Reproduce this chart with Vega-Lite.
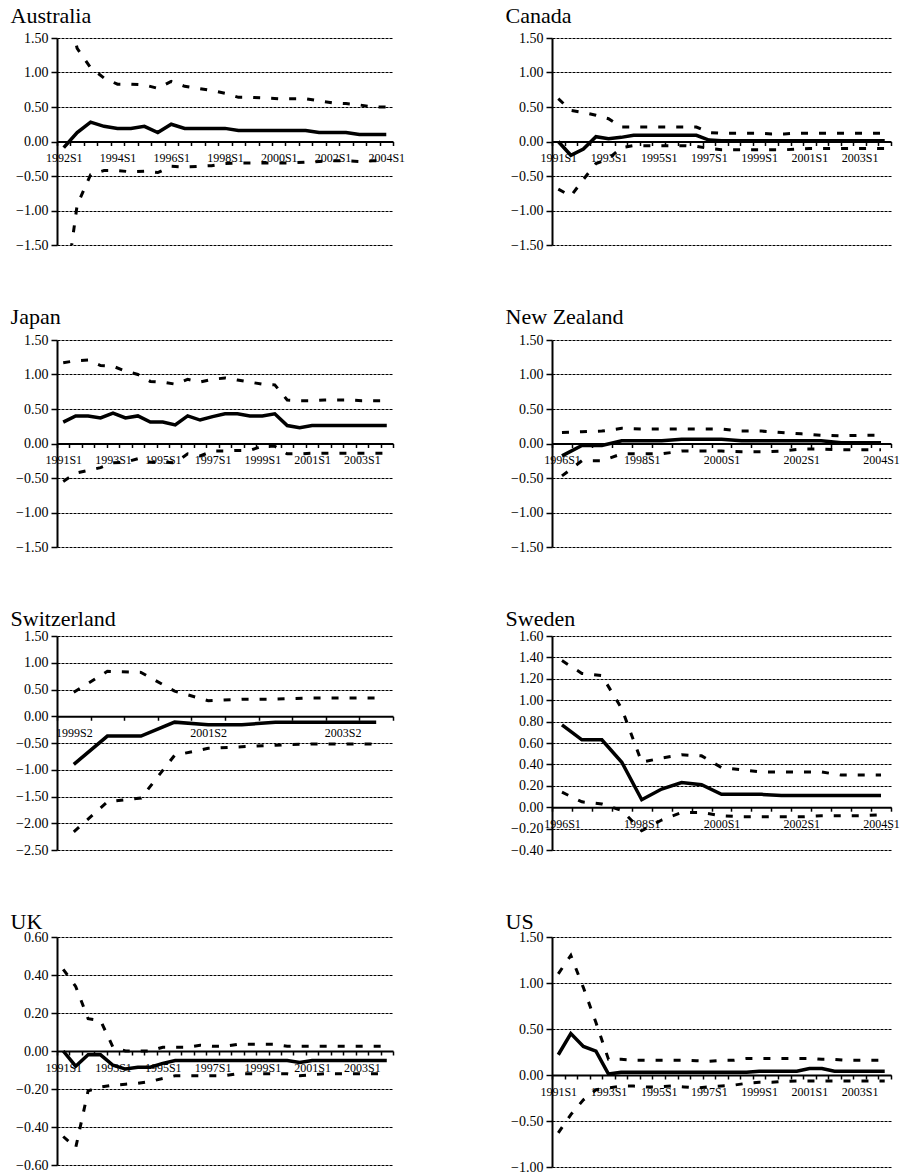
{
"$schema": "https://vega.github.io/schema/vega-lite/v6.json",
"background": "white",
"padding": {"left": 10, "top": 5, "right": 2, "bottom": 2},
"datasets": {
"aus": [
{"p":"1992S1","c":-0.09,"u":2.15,"l":-2.35},{"p":"1992S2","c":0.13,"u":1.35,"l":-0.92},{"p":"1993S1","c":0.28,"u":1.07,"l":-0.48},{"p":"1993S2","c":0.22,"u":0.92,"l":-0.42},{"p":"1994S1","c":0.19,"u":0.83,"l":-0.42},{"p":"1994S2","c":0.19,"u":0.83,"l":-0.44},{"p":"1995S1","c":0.22,"u":0.82,"l":-0.43},{"p":"1995S2","c":0.13,"u":0.77,"l":-0.45},{"p":"1996S1","c":0.25,"u":0.87,"l":-0.36},{"p":"1996S2","c":0.19,"u":0.80,"l":-0.37},{"p":"1997S1","c":0.19,"u":0.77,"l":-0.36},{"p":"1997S2","c":0.19,"u":0.74,"l":-0.35},{"p":"1998S1","c":0.19,"u":0.70,"l":-0.32},{"p":"1998S2","c":0.16,"u":0.64,"l":-0.31},{"p":"1999S1","c":0.16,"u":0.64,"l":-0.31},{"p":"1999S2","c":0.16,"u":0.63,"l":-0.31},{"p":"2000S1","c":0.16,"u":0.62,"l":-0.31},{"p":"2000S2","c":0.16,"u":0.62,"l":-0.31},{"p":"2001S1","c":0.16,"u":0.62,"l":-0.30},{"p":"2001S2","c":0.13,"u":0.59,"l":-0.29},{"p":"2002S1","c":0.13,"u":0.56,"l":-0.28},{"p":"2002S2","c":0.13,"u":0.55,"l":-0.28},{"p":"2003S1","c":0.10,"u":0.53,"l":-0.29},{"p":"2003S2","c":0.10,"u":0.50,"l":-0.28},{"p":"2004S1","c":0.10,"u":0.50,"l":-0.28}],
"can": [
{"p":"1991S1","c":0.00,"u":0.62,"l":-0.69},{"p":"1991S2","c":-0.20,"u":0.45,"l":-0.79},{"p":"1992S1","c":-0.11,"u":0.42,"l":-0.55},{"p":"1992S2","c":0.07,"u":0.38,"l":-0.32},{"p":"1993S1","c":0.04,"u":0.33,"l":-0.25},{"p":"1993S2","c":0.06,"u":0.21,"l":-0.09},{"p":"1994S1","c":0.09,"u":0.21,"l":-0.06},{"p":"1994S2","c":0.09,"u":0.21,"l":-0.06},{"p":"1995S1","c":0.09,"u":0.21,"l":-0.06},{"p":"1995S2","c":0.09,"u":0.21,"l":-0.06},{"p":"1996S1","c":0.09,"u":0.21,"l":-0.06},{"p":"1996S2","c":0.09,"u":0.21,"l":-0.07},{"p":"1997S1","c":0.02,"u":0.13,"l":-0.10},{"p":"1997S2","c":0.01,"u":0.12,"l":-0.12},{"p":"1998S1","c":0.01,"u":0.12,"l":-0.12},{"p":"1998S2","c":0.01,"u":0.12,"l":-0.12},{"p":"1999S1","c":0.01,"u":0.12,"l":-0.12},{"p":"1999S2","c":0.01,"u":0.11,"l":-0.12},{"p":"2000S1","c":0.01,"u":0.11,"l":-0.12},{"p":"2000S2","c":0.01,"u":0.12,"l":-0.11},{"p":"2001S1","c":0.01,"u":0.12,"l":-0.10},{"p":"2001S2","c":0.01,"u":0.12,"l":-0.10},{"p":"2002S1","c":0.01,"u":0.12,"l":-0.10},{"p":"2002S2","c":0.01,"u":0.12,"l":-0.10},{"p":"2003S1","c":0.01,"u":0.12,"l":-0.10},{"p":"2003S2","c":0.01,"u":0.12,"l":-0.10},{"p":"2004S1","c":0.01,"u":0.12,"l":-0.10}],
"jap": [
{"p":"1991S1","c":0.31,"u":1.17,"l":-0.55},{"p":"1991S2","c":0.40,"u":1.20,"l":-0.43},{"p":"1992S1","c":0.40,"u":1.21,"l":-0.39},{"p":"1992S2","c":0.37,"u":1.13,"l":-0.35},{"p":"1993S1","c":0.44,"u":1.12,"l":-0.28},{"p":"1993S2","c":0.37,"u":1.05,"l":-0.27},{"p":"1994S1","c":0.40,"u":1.00,"l":-0.22},{"p":"1994S2","c":0.31,"u":0.90,"l":-0.27},{"p":"1995S1","c":0.31,"u":0.89,"l":-0.27},{"p":"1995S2","c":0.27,"u":0.86,"l":-0.28},{"p":"1996S1","c":0.40,"u":0.93,"l":-0.15},{"p":"1996S2","c":0.34,"u":0.89,"l":-0.18},{"p":"1997S1","c":0.39,"u":0.93,"l":-0.11},{"p":"1997S2","c":0.43,"u":0.95,"l":-0.11},{"p":"1998S1","c":0.43,"u":0.92,"l":-0.10},{"p":"1998S2","c":0.40,"u":0.89,"l":-0.10},{"p":"1999S1","c":0.40,"u":0.86,"l":-0.04},{"p":"1999S2","c":0.43,"u":0.85,"l":-0.04},{"p":"2000S1","c":0.26,"u":0.63,"l":-0.15},{"p":"2000S2","c":0.23,"u":0.62,"l":-0.15},{"p":"2001S1","c":0.26,"u":0.62,"l":-0.14},{"p":"2001S2","c":0.26,"u":0.63,"l":-0.14},{"p":"2002S1","c":0.26,"u":0.63,"l":-0.14},{"p":"2002S2","c":0.26,"u":0.63,"l":-0.14},{"p":"2003S1","c":0.26,"u":0.62,"l":-0.14},{"p":"2003S2","c":0.26,"u":0.62,"l":-0.14},{"p":"2004S1","c":0.26,"u":0.62,"l":-0.14}],
"nz": [
{"p":"1996S1","c":-0.18,"u":0.16,"l":-0.47},{"p":"1996S2","c":-0.03,"u":0.17,"l":-0.25},{"p":"1997S1","c":-0.03,"u":0.18,"l":-0.25},{"p":"1997S2","c":0.04,"u":0.22,"l":-0.15},{"p":"1998S1","c":0.04,"u":0.21,"l":-0.15},{"p":"1998S2","c":0.04,"u":0.21,"l":-0.15},{"p":"1999S1","c":0.06,"u":0.21,"l":-0.11},{"p":"1999S2","c":0.06,"u":0.21,"l":-0.11},{"p":"2000S1","c":0.06,"u":0.21,"l":-0.11},{"p":"2000S2","c":0.04,"u":0.18,"l":-0.12},{"p":"2001S1","c":0.04,"u":0.18,"l":-0.12},{"p":"2001S2","c":0.04,"u":0.16,"l":-0.11},{"p":"2002S1","c":0.04,"u":0.14,"l":-0.08},{"p":"2002S2","c":0.04,"u":0.12,"l":-0.08},{"p":"2003S1","c":0.01,"u":0.11,"l":-0.09},{"p":"2003S2","c":0.01,"u":0.12,"l":-0.09},{"p":"2004S1","c":0.01,"u":0.12,"l":-0.09}],
"swi": [
{"p":"1999S2","c":-0.90,"u":0.45,"l":-2.16},{"p":"2000S1","c":-0.37,"u":0.84,"l":-1.60},{"p":"2000S2","c":-0.37,"u":0.82,"l":-1.53},{"p":"2001S1","c":-0.11,"u":0.47,"l":-0.73},{"p":"2001S2","c":-0.16,"u":0.29,"l":-0.60},{"p":"2002S1","c":-0.16,"u":0.32,"l":-0.57},{"p":"2002S2","c":-0.11,"u":0.32,"l":-0.54},{"p":"2003S1","c":-0.11,"u":0.34,"l":-0.52},{"p":"2003S2","c":-0.11,"u":0.34,"l":-0.52},{"p":"2004S1","c":-0.11,"u":0.34,"l":-0.52}],
"swe": [
{"p":"1996S1","c":0.77,"u":1.37,"l":0.14},{"p":"1996S2","c":0.63,"u":1.25,"l":0.05},{"p":"1997S1","c":0.63,"u":1.23,"l":0.03},{"p":"1997S2","c":0.42,"u":0.92,"l":-0.03},{"p":"1998S1","c":0.07,"u":0.42,"l":-0.22},{"p":"1998S2","c":0.17,"u":0.46,"l":-0.12},{"p":"1999S1","c":0.23,"u":0.49,"l":-0.05},{"p":"1999S2","c":0.21,"u":0.48,"l":-0.05},{"p":"2000S1","c":0.12,"u":0.37,"l":-0.08},{"p":"2000S2","c":0.12,"u":0.35,"l":-0.09},{"p":"2001S1","c":0.12,"u":0.33,"l":-0.09},{"p":"2001S2","c":0.11,"u":0.33,"l":-0.09},{"p":"2002S1","c":0.11,"u":0.33,"l":-0.09},{"p":"2002S2","c":0.11,"u":0.33,"l":-0.08},{"p":"2003S1","c":0.11,"u":0.30,"l":-0.08},{"p":"2003S2","c":0.11,"u":0.30,"l":-0.08},{"p":"2004S1","c":0.11,"u":0.30,"l":-0.07}],
"uk": [
{"p":"1991S1","c":0.00,"u":0.43,"l":-0.45},{"p":"1991S2","c":-0.08,"u":0.34,"l":-0.51},{"p":"1992S1","c":-0.02,"u":0.17,"l":-0.21},{"p":"1992S2","c":-0.02,"u":0.16,"l":-0.19},{"p":"1993S1","c":-0.075,"u":0.02,"l":-0.18},{"p":"1993S2","c":-0.095,"u":0.00,"l":-0.175},{"p":"1994S1","c":-0.085,"u":0.00,"l":-0.17},{"p":"1994S2","c":-0.085,"u":0.00,"l":-0.16},{"p":"1995S1","c":-0.065,"u":0.02,"l":-0.145},{"p":"1995S2","c":-0.05,"u":0.02,"l":-0.13},{"p":"1996S1","c":-0.05,"u":0.02,"l":-0.13},{"p":"1996S2","c":-0.05,"u":0.03,"l":-0.13},{"p":"1997S1","c":-0.05,"u":0.025,"l":-0.13},{"p":"1997S2","c":-0.05,"u":0.025,"l":-0.13},{"p":"1998S1","c":-0.05,"u":0.035,"l":-0.12},{"p":"1998S2","c":-0.05,"u":0.035,"l":-0.12},{"p":"1999S1","c":-0.05,"u":0.035,"l":-0.12},{"p":"1999S2","c":-0.05,"u":0.035,"l":-0.12},{"p":"2000S1","c":-0.05,"u":0.025,"l":-0.12},{"p":"2000S2","c":-0.06,"u":0.025,"l":-0.13},{"p":"2001S1","c":-0.05,"u":0.025,"l":-0.125},{"p":"2001S2","c":-0.05,"u":0.025,"l":-0.12},{"p":"2002S1","c":-0.05,"u":0.025,"l":-0.12},{"p":"2002S2","c":-0.05,"u":0.025,"l":-0.12},{"p":"2003S1","c":-0.05,"u":0.025,"l":-0.12},{"p":"2003S2","c":-0.05,"u":0.025,"l":-0.12},{"p":"2004S1","c":-0.05,"u":0.025,"l":-0.12}],
"us": [
{"p":"1991S1","c":0.22,"u":1.10,"l":-0.63},{"p":"1991S2","c":0.45,"u":1.30,"l":-0.43},{"p":"1992S1","c":0.31,"u":0.95,"l":-0.27},{"p":"1992S2","c":0.26,"u":0.57,"l":-0.16},{"p":"1993S1","c":0.01,"u":0.17,"l":-0.14},{"p":"1993S2","c":0.03,"u":0.17,"l":-0.12},{"p":"1994S1","c":0.03,"u":0.16,"l":-0.12},{"p":"1994S2","c":0.03,"u":0.16,"l":-0.13},{"p":"1995S1","c":0.03,"u":0.16,"l":-0.13},{"p":"1995S2","c":0.03,"u":0.16,"l":-0.12},{"p":"1996S1","c":0.03,"u":0.16,"l":-0.13},{"p":"1996S2","c":0.03,"u":0.155,"l":-0.14},{"p":"1997S1","c":0.03,"u":0.15,"l":-0.13},{"p":"1997S2","c":0.03,"u":0.16,"l":-0.12},{"p":"1998S1","c":0.03,"u":0.16,"l":-0.11},{"p":"1998S2","c":0.03,"u":0.18,"l":-0.09},{"p":"1999S1","c":0.04,"u":0.18,"l":-0.08},{"p":"1999S2","c":0.04,"u":0.18,"l":-0.08},{"p":"2000S1","c":0.04,"u":0.18,"l":-0.07},{"p":"2000S2","c":0.04,"u":0.18,"l":-0.065},{"p":"2001S1","c":0.07,"u":0.18,"l":-0.065},{"p":"2001S2","c":0.07,"u":0.17,"l":-0.065},{"p":"2002S1","c":0.04,"u":0.17,"l":-0.065},{"p":"2002S2","c":0.04,"u":0.16,"l":-0.065},{"p":"2003S1","c":0.04,"u":0.16,"l":-0.065},{"p":"2003S2","c":0.04,"u":0.16,"l":-0.065},{"p":"2004S1","c":0.04,"u":0.16,"l":-0.065}]
},
"columns": 2,
"align": "each",
"spacing": {"row": 54, "column": 100},
"concat": [
{"width": 336, "height": 207, "title": {"text": "Australia", "offset": 3}, "data": {"name": "aus"},
 "encoding": {"x": {"field": "p", "type": "ordinal", "bandPosition": 0.5, "scale": {"type": "band", "paddingInner": 0, "paddingOuter": 0}, "axis": {"title": null, "offset": -103.5, "tickBand": "extent", "labelExpr": "indexof(['1992S1','1994S1','1996S1','1998S1','2000S1','2002S1','2004S1'], datum.value) >= 0 ? datum.label : ''"}}},
 "layer": [
  {"mark": {"type": "line", "clip": true, "strokeWidth": 3, "strokeDash": [7, 11]}, "encoding": {"y": {"field": "u", "type": "quantitative", "scale": {"domain": [-1.5, 1.5]}, "axis": {"title": null, "values": [-1.5, -1, -0.5, 0, 0.5, 1, 1.5]}}}},
  {"mark": {"type": "line", "clip": true, "strokeWidth": 3, "strokeDash": [7, 11]}, "encoding": {"y": {"field": "l", "type": "quantitative", "scale": {"domain": [-1.5, 1.5]}, "axis": {"title": null, "values": [-1.5, -1, -0.5, 0, 0.5, 1, 1.5]}}}},
  {"mark": {"type": "line", "clip": true, "strokeWidth": 3.5}, "encoding": {"y": {"field": "c", "type": "quantitative", "scale": {"domain": [-1.5, 1.5]}, "axis": {"title": null, "values": [-1.5, -1, -0.5, 0, 0.5, 1, 1.5]}}}}
 ]},
{"width": 339, "height": 207, "title": {"text": "Canada", "offset": 3}, "data": {"name": "can"},
 "encoding": {"x": {"field": "p", "type": "ordinal", "bandPosition": 0.5, "scale": {"type": "band", "paddingInner": 0, "paddingOuter": 0}, "axis": {"title": null, "offset": -103.5, "tickBand": "extent", "labelExpr": "indexof(['1991S1','1993S1','1995S1','1997S1','1999S1','2001S1','2003S1'], datum.value) >= 0 ? datum.label : ''"}}},
 "layer": [
  {"mark": {"type": "line", "clip": true, "strokeWidth": 3, "strokeDash": [7, 11]}, "encoding": {"y": {"field": "u", "type": "quantitative", "scale": {"domain": [-1.5, 1.5]}, "axis": {"title": null, "values": [-1.5, -1, -0.5, 0, 0.5, 1, 1.5]}}}},
  {"mark": {"type": "line", "clip": true, "strokeWidth": 3, "strokeDash": [7, 11]}, "encoding": {"y": {"field": "l", "type": "quantitative", "scale": {"domain": [-1.5, 1.5]}, "axis": {"title": null, "values": [-1.5, -1, -0.5, 0, 0.5, 1, 1.5]}}}},
  {"mark": {"type": "line", "clip": true, "strokeWidth": 3.5}, "encoding": {"y": {"field": "c", "type": "quantitative", "scale": {"domain": [-1.5, 1.5]}, "axis": {"title": null, "values": [-1.5, -1, -0.5, 0, 0.5, 1, 1.5]}}}}
 ]},
{"width": 336, "height": 207, "title": {"text": "Japan", "offset": 4}, "data": {"name": "jap"},
 "encoding": {"x": {"field": "p", "type": "ordinal", "bandPosition": 0.5, "scale": {"type": "band", "paddingInner": 0, "paddingOuter": 0}, "axis": {"title": null, "offset": -103.5, "tickBand": "extent", "labelExpr": "indexof(['1991S1','1993S1','1995S1','1997S1','1999S1','2001S1','2003S1'], datum.value) >= 0 ? datum.label : ''"}}},
 "layer": [
  {"mark": {"type": "line", "clip": true, "strokeWidth": 3, "strokeDash": [7, 11]}, "encoding": {"y": {"field": "u", "type": "quantitative", "scale": {"domain": [-1.5, 1.5]}, "axis": {"title": null, "values": [-1.5, -1, -0.5, 0, 0.5, 1, 1.5]}}}},
  {"mark": {"type": "line", "clip": true, "strokeWidth": 3, "strokeDash": [7, 11]}, "encoding": {"y": {"field": "l", "type": "quantitative", "scale": {"domain": [-1.5, 1.5]}, "axis": {"title": null, "values": [-1.5, -1, -0.5, 0, 0.5, 1, 1.5]}}}},
  {"mark": {"type": "line", "clip": true, "strokeWidth": 3.5}, "encoding": {"y": {"field": "c", "type": "quantitative", "scale": {"domain": [-1.5, 1.5]}, "axis": {"title": null, "values": [-1.5, -1, -0.5, 0, 0.5, 1, 1.5]}}}}
 ]},
{"width": 339, "height": 207, "title": {"text": "New Zealand", "offset": 4}, "data": {"name": "nz"},
 "encoding": {"x": {"field": "p", "type": "ordinal", "bandPosition": 0.5, "scale": {"type": "band", "paddingInner": 0, "paddingOuter": 0}, "axis": {"title": null, "offset": -103.5, "tickBand": "extent", "labelExpr": "indexof(['1996S1','1998S1','2000S1','2002S1','2004S1'], datum.value) >= 0 ? datum.label : ''"}}},
 "layer": [
  {"mark": {"type": "line", "clip": true, "strokeWidth": 3, "strokeDash": [7, 11]}, "encoding": {"y": {"field": "u", "type": "quantitative", "scale": {"domain": [-1.5, 1.5]}, "axis": {"title": null, "values": [-1.5, -1, -0.5, 0, 0.5, 1, 1.5]}}}},
  {"mark": {"type": "line", "clip": true, "strokeWidth": 3, "strokeDash": [7, 11]}, "encoding": {"y": {"field": "l", "type": "quantitative", "scale": {"domain": [-1.5, 1.5]}, "axis": {"title": null, "values": [-1.5, -1, -0.5, 0, 0.5, 1, 1.5]}}}},
  {"mark": {"type": "line", "clip": true, "strokeWidth": 3.5}, "encoding": {"y": {"field": "c", "type": "quantitative", "scale": {"domain": [-1.5, 1.5]}, "axis": {"title": null, "values": [-1.5, -1, -0.5, 0, 0.5, 1, 1.5]}}}}
 ]},
{"width": 336, "height": 214, "title": {"text": "Switzerland", "offset": -2}, "data": {"name": "swi"},
 "encoding": {"x": {"field": "p", "type": "ordinal", "bandPosition": 0.5, "scale": {"type": "band", "paddingInner": 0, "paddingOuter": 0}, "axis": {"title": null, "offset": -133.75, "tickBand": "extent", "labelExpr": "indexof(['1999S2','2001S2','2003S2'], datum.value) >= 0 ? datum.label : ''"}}},
 "layer": [
  {"mark": {"type": "line", "clip": true, "strokeWidth": 3, "strokeDash": [7, 11]}, "encoding": {"y": {"field": "u", "type": "quantitative", "scale": {"domain": [-2.5, 1.5]}, "axis": {"title": null, "values": [-2.5, -2, -1.5, -1, -0.5, 0, 0.5, 1, 1.5]}}}},
  {"mark": {"type": "line", "clip": true, "strokeWidth": 3, "strokeDash": [7, 11]}, "encoding": {"y": {"field": "l", "type": "quantitative", "scale": {"domain": [-2.5, 1.5]}, "axis": {"title": null, "values": [-2.5, -2, -1.5, -1, -0.5, 0, 0.5, 1, 1.5]}}}},
  {"mark": {"type": "line", "clip": true, "strokeWidth": 3.5}, "encoding": {"y": {"field": "c", "type": "quantitative", "scale": {"domain": [-2.5, 1.5]}, "axis": {"title": null, "values": [-2.5, -2, -1.5, -1, -0.5, 0, 0.5, 1, 1.5]}}}}
 ]},
{"width": 339, "height": 214, "title": {"text": "Sweden", "offset": -2}, "data": {"name": "swe"},
 "encoding": {"x": {"field": "p", "type": "ordinal", "bandPosition": 0.5, "scale": {"type": "band", "paddingInner": 0, "paddingOuter": 0}, "axis": {"title": null, "offset": -42.8, "tickBand": "extent", "labelExpr": "indexof(['1996S1','1998S1','2000S1','2002S1','2004S1'], datum.value) >= 0 ? datum.label : ''"}}},
 "layer": [
  {"mark": {"type": "line", "clip": true, "strokeWidth": 3, "strokeDash": [7, 11]}, "encoding": {"y": {"field": "u", "type": "quantitative", "scale": {"domain": [-0.4, 1.6]}, "axis": {"title": null, "values": [-0.4, -0.2, 0, 0.2, 0.4, 0.6, 0.8, 1, 1.2, 1.4, 1.6]}}}},
  {"mark": {"type": "line", "clip": true, "strokeWidth": 3, "strokeDash": [7, 11]}, "encoding": {"y": {"field": "l", "type": "quantitative", "scale": {"domain": [-0.4, 1.6]}, "axis": {"title": null, "values": [-0.4, -0.2, 0, 0.2, 0.4, 0.6, 0.8, 1, 1.2, 1.4, 1.6]}}}},
  {"mark": {"type": "line", "clip": true, "strokeWidth": 3.5}, "encoding": {"y": {"field": "c", "type": "quantitative", "scale": {"domain": [-0.4, 1.6]}, "axis": {"title": null, "values": [-0.4, -0.2, 0, 0.2, 0.4, 0.6, 0.8, 1, 1.2, 1.4, 1.6]}}}}
 ]},
{"width": 336, "height": 228, "title": {"text": "UK", "offset": -4}, "data": {"name": "uk"},
 "encoding": {"x": {"field": "p", "type": "ordinal", "bandPosition": 0.5, "scale": {"type": "band", "paddingInner": 0, "paddingOuter": 0}, "axis": {"title": null, "offset": -114, "tickBand": "extent", "labelExpr": "indexof(['1991S1','1993S1','1995S1','1997S1','1999S1','2001S1','2003S1'], datum.value) >= 0 ? datum.label : ''"}}},
 "layer": [
  {"mark": {"type": "line", "clip": true, "strokeWidth": 3, "strokeDash": [7, 11]}, "encoding": {"y": {"field": "u", "type": "quantitative", "scale": {"domain": [-0.6, 0.6]}, "axis": {"title": null, "values": [-0.6, -0.4, -0.2, 0, 0.2, 0.4, 0.6]}}}},
  {"mark": {"type": "line", "clip": true, "strokeWidth": 3, "strokeDash": [7, 11]}, "encoding": {"y": {"field": "l", "type": "quantitative", "scale": {"domain": [-0.6, 0.6]}, "axis": {"title": null, "values": [-0.6, -0.4, -0.2, 0, 0.2, 0.4, 0.6]}}}},
  {"mark": {"type": "line", "clip": true, "strokeWidth": 3.5}, "encoding": {"y": {"field": "c", "type": "quantitative", "scale": {"domain": [-0.6, 0.6]}, "axis": {"title": null, "values": [-0.6, -0.4, -0.2, 0, 0.2, 0.4, 0.6]}}}}
 ]},
{"width": 339, "height": 230, "title": {"text": "US", "offset": -4}, "data": {"name": "us"},
 "encoding": {"x": {"field": "p", "type": "ordinal", "bandPosition": 0.5, "scale": {"type": "band", "paddingInner": 0, "paddingOuter": 0}, "axis": {"title": null, "offset": -92, "tickBand": "extent", "labelExpr": "indexof(['1991S1','1993S1','1995S1','1997S1','1999S1','2001S1','2003S1'], datum.value) >= 0 ? datum.label : ''"}}},
 "layer": [
  {"mark": {"type": "line", "clip": true, "strokeWidth": 3, "strokeDash": [7, 11]}, "encoding": {"y": {"field": "u", "type": "quantitative", "scale": {"domain": [-1, 1.5]}, "axis": {"title": null, "values": [-1, -0.5, 0, 0.5, 1, 1.5]}}}},
  {"mark": {"type": "line", "clip": true, "strokeWidth": 3, "strokeDash": [7, 11]}, "encoding": {"y": {"field": "l", "type": "quantitative", "scale": {"domain": [-1, 1.5]}, "axis": {"title": null, "values": [-1, -0.5, 0, 0.5, 1, 1.5]}}}},
  {"mark": {"type": "line", "clip": true, "strokeWidth": 3.5}, "encoding": {"y": {"field": "c", "type": "quantitative", "scale": {"domain": [-1, 1.5]}, "axis": {"title": null, "values": [-1, -0.5, 0, 0.5, 1, 1.5]}}}}
 ]}
],
"config": {
 "view": {"stroke": null},
 "font": "Liberation Serif",
 "mark": {"color": "black"},
 "line": {"color": "black", "strokeCap": "butt"},
 "title": {"font": "Liberation Serif", "fontSize": 22, "fontWeight": "normal", "anchor": "start", "frame": "bounds", "color": "black", "dx": -5},
 "axisX": {"domainColor": "black", "domainWidth": 2, "tickColor": "black", "tickSize": 4, "tickWidth": 1.5, "labelAngle": 0, "labelFont": "Liberation Serif", "labelFontSize": 12, "labelColor": "black", "labelPadding": 7, "grid": false, "labelOverlap": false},
 "axisY": {"domainColor": "black", "domainWidth": 2, "tickColor": "black", "tickSize": 6, "tickWidth": 1.5, "labelFont": "Liberation Serif", "labelFontSize": 14, "labelColor": "black", "labelPadding": 3, "grid": true, "gridColor": "black", "gridDash": [3, 1], "gridWidth": 1, "gridOpacity": 1, "format": ".2f", "labelOverlap": false}
}
}
